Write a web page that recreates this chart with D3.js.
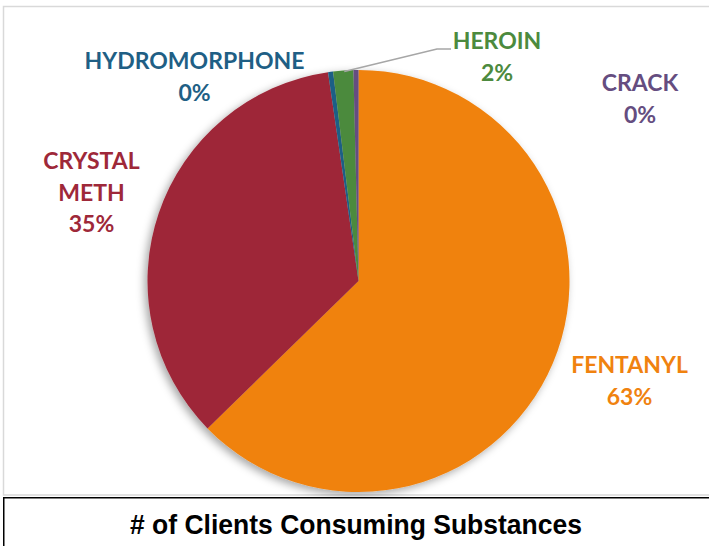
<!DOCTYPE html>
<html><head><meta charset="utf-8">
<script src="https://cdn.jsdelivr.net/npm/d3@7"></script>
<style>html,body{margin:0;padding:0;background:#fff;}svg{display:block;}</style>
</head><body>
<svg id="chart" width="709" height="546"></svg>
<script>
const categories = ["FENTANYL", "CRYSTAL METH", "HYDROMORPHONE", "HEROIN", "CRACK"];
const values = [163, 91, 1, 4, 1];
const colors = ["#F0820F", "#9E2839", "#1F5F85", "#4C8A3E", "#654D80"];
const title = "# of Clients Consuming Substances";

const svg = d3.select("#chart");
const defs = svg.append("defs");
const f = defs.append("filter").attr("id","sh").attr("x","-20%").attr("y","-20%").attr("width","140%").attr("height","140%");
f.append("feDropShadow").attr("dx",-3).attr("dy",3).attr("stdDeviation",4).attr("flood-color","#000").attr("flood-opacity",0.35);

// outer frame
svg.append("rect").attr("x",3.5).attr("y",6.5).attr("width",720).attr("height",488.5)
  .attr("fill","#fff").attr("stroke","#D9D9D9").attr("stroke-width",1.5);

const cx = 358.5, cy = 281, r = 211;
const total = d3.sum(values);
const pie = d3.pie().sort(null).value(d => d)(values);
const arc = d3.arc().innerRadius(0).outerRadius(r);
const g = svg.append("g").attr("transform",`translate(${cx},${cy})`);
g.append("g").attr("filter","url(#sh)").selectAll("path").data(pie).join("path")
  .attr("d", arc).attr("fill", (d,i) => colors[i]);

// leader line for heroin
const hero = pie[3];
const midA = (hero.startAngle + hero.endAngle)/2;
const p0 = [cx + Math.sin(midA)*(r-1), cy - Math.cos(midA)*(r-1)];
svg.append("polyline").attr("points", [[p0[0]+1, p0[1]], [437,49], [451,49]].map(p=>p.join(",")).join(" "))
  .attr("fill","none").attr("stroke","#A6A6A6").attr("stroke-width",1.5);

// labels
const labelPos = [
  {x:629.5, y:373, lines:["FENTANYL"]},
  {x:91.5, y:169, lines:["CRYSTAL","METH"]},
  {x:194.5, y:69, lines:["HYDROMORPHONE"]},
  {x:497, y:49, lines:["HEROIN"]},
  {x:640, y:91, lines:["CRACK"]}
];
const pct = d3.format(".0%");
labelPos.forEach((L,i) => {
  const t = svg.append("text").attr("text-anchor","middle")
    .attr("font-family","Lato, 'Open Sans', sans-serif").attr("font-weight","bold")
    .attr("font-size",23).attr("fill",colors[i]);
  const lines = L.lines.concat([pct(values[i]/total)]);
  lines.forEach((s,k) => t.append("tspan").attr("x",L.x).attr("y",L.y + k*31.5).text(s));
});

// title box
svg.append("rect").attr("x",3.75).attr("y",497.75).attr("width",720).attr("height",60)
  .attr("fill","#fff").attr("stroke","#000").attr("stroke-width",1.5);
svg.append("text").attr("x",356).attr("y",534).attr("text-anchor","middle")
  .attr("font-family","'Liberation Sans', Arial, sans-serif").attr("font-weight","bold")
  .attr("font-size",27).attr("textLength",452).attr("lengthAdjust","spacingAndGlyphs")
  .attr("fill","#000").text(title);
</script>
</body></html>
